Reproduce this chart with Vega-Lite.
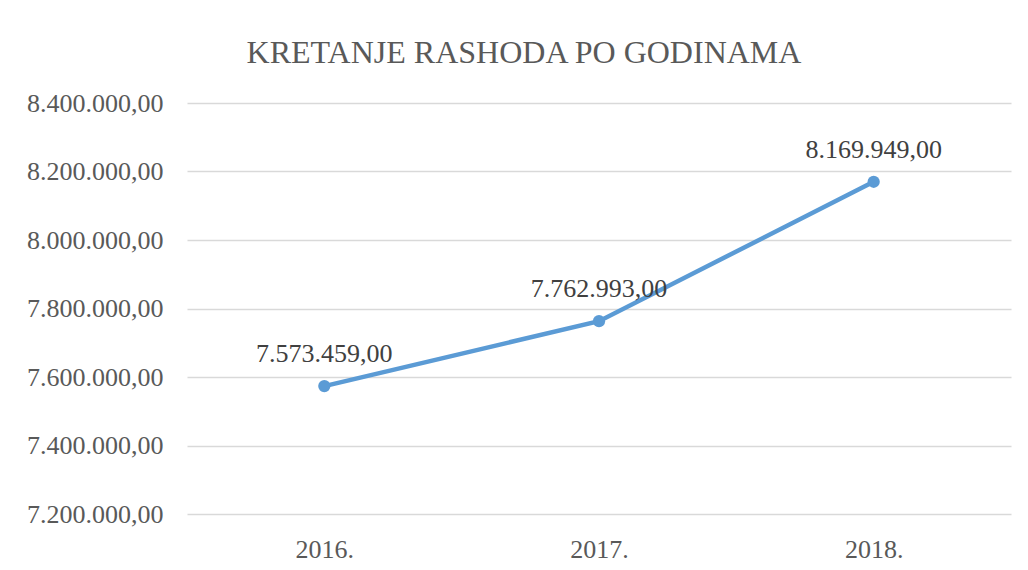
{
  "$schema": "https://vega.github.io/schema/vega-lite/v6.json",
  "width": 824,
  "height": 411,
  "autosize": "none",
  "padding": {"left": 187, "top": 103, "right": 17, "bottom": 56},
  "background": "white",
  "config": {
    "view": {"stroke": null},
    "locale": {"number": {"decimal": ",", "thousands": ".", "grouping": [3], "currency": ["", ""]}},
    "font": "'Liberation Serif', 'Times New Roman', serif",
    "axis": {"labelFont": "'Liberation Serif', 'Times New Roman', serif"},
    "text": {"font": "'Liberation Serif', 'Times New Roman', serif"}
  },
  "title": {
    "text": "KRETANJE RASHODA PO GODINAMA",
    "fontSize": 32,
    "fontWeight": "normal",
    "color": "#595959",
    "font": "'Liberation Serif', 'Times New Roman', serif",
    "anchor": "middle",
    "dx": -75,
    "offset": 20
  },
  "data": {
    "values": [
      {"godina": "2016.", "rashod": 7573459},
      {"godina": "2017.", "rashod": 7762993},
      {"godina": "2018.", "rashod": 8169949}
    ]
  },
  "encoding": {
    "x": {
      "field": "godina",
      "type": "nominal",
      "sort": null,
      "scale": {"type": "point", "padding": 0.5},
      "axis": {
        "title": null,
        "domain": false,
        "ticks": false,
        "labelAngle": 0,
        "labelFontSize": 26,
        "labelColor": "#595959",
        "labelBaseline": "alphabetic",
        "labelPadding": 43,
        "grid": false
      }
    },
    "y": {
      "field": "rashod",
      "type": "quantitative",
      "scale": {"domain": [7200000, 8400000], "nice": false, "zero": false},
      "axis": {
        "title": null,
        "domain": false,
        "ticks": false,
        "values": [7200000, 7400000, 7600000, 7800000, 8000000, 8200000, 8400000],
        "format": ",.2f",
        "labelFontSize": 26,
        "labelColor": "#595959",
        "labelPadding": 24,
        "gridColor": "#d9d9d9",
        "gridWidth": 1.5
      }
    }
  },
  "layer": [
    {
      "mark": {"type": "line", "color": "#5B9BD5", "strokeWidth": 4.5, "strokeCap": "round"}
    },
    {
      "mark": {"type": "point", "filled": true, "color": "#5B9BD5", "size": 150, "opacity": 1}
    },
    {
      "mark": {"type": "text", "fontSize": 26, "color": "#404040", "baseline": "alphabetic", "dy": -24, "align": "center"},
      "encoding": {
        "text": {"field": "rashod", "type": "quantitative", "format": ",.2f"}
      }
    }
  ]
}
